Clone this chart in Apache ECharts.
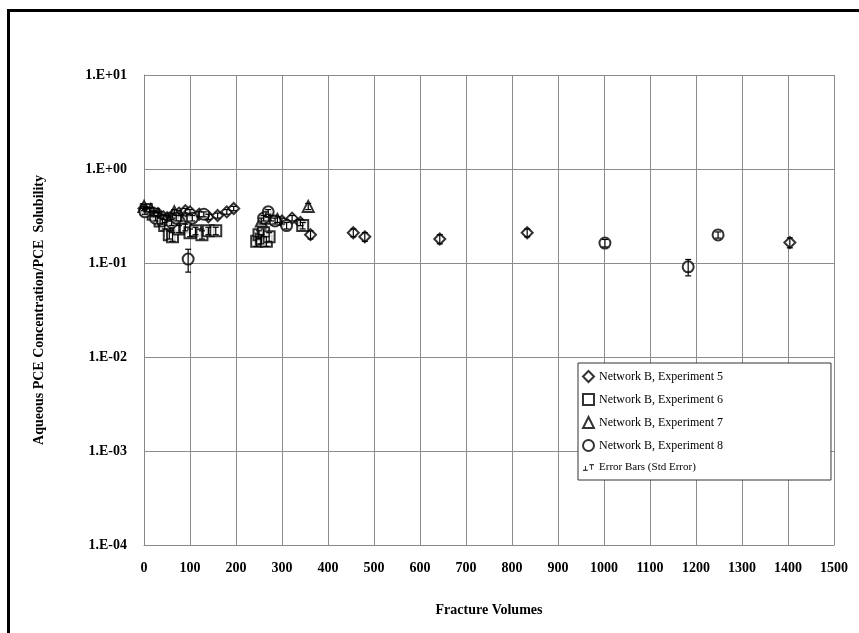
<!DOCTYPE html>
<html>
<head>
<meta charset="utf-8">
<script src="https://cdn.jsdelivr.net/npm/echarts@6/dist/echarts.min.js"></script>
<style>html,body{margin:0;padding:0;background:#fff}#c{width:859px;height:633px}</style>
</head>
<body>
<div id="c"></div>
<script>
// [fracture volumes, concentration/solubility, std error]
const exp5 = [[0,0.38,0.02],[12,0.36,0.02],[22,0.34,0.02],[32,0.33,0.02],[42,0.31,0.02],[52,0.30,0.02],[62,0.32,0.02],[76,0.34,0.02],[90,0.36,0.02],[100,0.35,0.02],[120,0.33,0.02],[140,0.31,0.02],[160,0.32,0.02],[180,0.35,0.02],[195,0.38,0.02],[300,0.28,0.02],[322,0.30,0.02],[340,0.27,0.02],[362,0.20,0.02],[455,0.21,0.02],[480,0.19,0.02],[643,0.18,0.02],[833,0.21,0.02],[1404,0.165,0.02]];
const exp6 = [[5,0.37,0.02],[20,0.33,0.02],[35,0.28,0.02],[45,0.25,0.02],[55,0.20,0.02],[62,0.19,0.02],[76,0.23,0.02],[90,0.24,0.02],[100,0.21,0.02],[112,0.22,0.02],[126,0.20,0.02],[140,0.22,0.02],[156,0.22,0.02],[245,0.17,0.02],[250,0.20,0.02],[255,0.18,0.02],[260,0.21,0.02],[266,0.17,0.02],[272,0.19,0.02],[345,0.25,0.02]];
const exp7 = [[0,0.40,0.02],[15,0.37,0.02],[30,0.33,0.02],[50,0.30,0.02],[66,0.35,0.02],[80,0.30,0.02],[255,0.28,0.02],[265,0.33,0.02],[276,0.30,0.02],[290,0.29,0.02],[357,0.40,0.03]];
const exp8 = [[2,0.35,0.02],[25,0.30,0.02],[40,0.28,0.02],[60,0.27,0.02],[70,0.30,0.02],[96,0.11,0.03],[105,0.30,0.02],[130,0.33,0.02],[260,0.30,0.02],[270,0.35,0.02],[285,0.28,0.02],[310,0.25,0.02],[1002,0.163,0.015],[1183,0.091,0.018],[1248,0.199,0.015]];

const seriesNames = ['Network B, Experiment 5','Network B, Experiment 6','Network B, Experiment 7','Network B, Experiment 8'];
const errName = 'Error Bars (Std Error)';
const xTitle = 'Fracture Volumes';
const yTitle = 'Aqueous PCE Concentration/PCE  Solubility';

const FONT = '"Liberation Serif","DejaVu Serif",serif';
const chart = echarts.init(document.getElementById('c'), null, {renderer:'canvas'});

function fmtE(v){
  const e = Math.round(Math.log10(v));
  const s = e < 0 ? '-' : '+';
  const a = Math.abs(e);
  return '1.E' + s + (a < 10 ? '0' + a : a);
}

const symbols = ['emptyDiamond','emptyRect','emptyTriangle','emptyCircle'];
const sizes = [11,11,11,11];
const allData = [exp5, exp6, exp7, exp8];

const series = allData.map((d,i)=>({
  name: seriesNames[i],
  type: 'scatter',
  data: d,
  symbol: symbols[i],
  symbolSize: sizes[i],
  itemStyle: {color:'#000', borderColor:'#000', borderWidth:1},
  encode: {x:0, y:1},
  z: 3
}));

series.push({
  name: errName,
  type: 'custom',
  data: [].concat(exp5, exp6, exp7, exp8),
  encode: {x:0, y:1},
  itemStyle: {color:'#000'},
  z: 4,
  renderItem: function(params, api){
    const x = api.value(0), y = api.value(1), se = api.value(2);
    const top = api.coord([x, y + se]);
    const bot = api.coord([x, Math.max(y - se, 1e-5)]);
    const w = 3;
    const st = {stroke:'#000', lineWidth:1.2};
    return {type:'group', children:[
      {type:'line', shape:{x1:top[0], y1:top[1], x2:bot[0], y2:bot[1]}, style:st},
      {type:'line', shape:{x1:top[0]-w, y1:top[1], x2:top[0]+w, y2:top[1]}, style:st},
      {type:'line', shape:{x1:bot[0]-w, y1:bot[1], x2:bot[0]+w, y2:bot[1]}, style:st}
    ]};
  }
});

const option = {
  backgroundColor: '#fff',
  animation: false,
  textStyle: {fontFamily: FONT},
  grid: {left:144, right:25, top:75, bottom:88, containLabel:false, outerBoundsMode:'none'},
  xAxis: {
    type:'value', min:0, max:1500, interval:100,
    name: xTitle, nameLocation:'middle', nameGap:58,
    nameTextStyle:{fontFamily:FONT, fontWeight:'bold', fontSize:14, color:'#000'},
    axisLine:{show:true, lineStyle:{color:'#888', width:1}},
    axisTick:{show:false},
    axisLabel:{color:'#000', fontFamily:FONT, fontWeight:'bold', fontSize:14, margin:16, formatter: v => String(v)},
    splitLine:{show:true, lineStyle:{color:'#8c8c8c', width:1}}
  },
  yAxis: {
    type:'log', logBase:10, min:0.0001, max:10,
    name: yTitle, nameLocation:'middle', nameGap:98, nameRotate:90,
    nameTextStyle:{fontFamily:FONT, fontWeight:'bold', fontSize:14, color:'#000'},
    axisLine:{show:true, lineStyle:{color:'#888', width:1}},
    axisTick:{show:false},
    axisLabel:{color:'#000', fontFamily:FONT, fontWeight:'bold', fontSize:14, margin:17, formatter: fmtE},
    splitLine:{show:true, lineStyle:{color:'#8c8c8c', width:1}},
    minorSplitLine:{show:false}
  },
  legend: {
    orient:'vertical', left:578, top:363,
    backgroundColor:'#fff', borderColor:'#333', borderWidth:1,
    padding:[7,108,7,4], itemGap:10, itemWidth:11, itemHeight:11,
    textStyle:{fontFamily:FONT, fontSize:12, color:'#000'},
    data: [
      {name:seriesNames[0]}, {name:seriesNames[1]}, {name:seriesNames[2]}, {name:seriesNames[3]},
      {name:errName, icon:'path://M0,9h6v1h-6z M2.5,4h1v5h-1z M8,2h6v1h-6z M10.5,3h1v6h-1z', itemStyle:{color:'#000'}, textStyle:{fontSize:11}}
    ]
  },
  graphic: [
    {type:'line', shape:{x1:8.5, y1:9, x2:8.5, y2:633}, style:{stroke:'#000', lineWidth:3}, z:100},
    {type:'line', shape:{x1:7, y1:10.5, x2:859, y2:10.5}, style:{stroke:'#000', lineWidth:3}, z:100}
  ],
  series: series
};
chart.setOption(option);
</script>
</body>
</html>
